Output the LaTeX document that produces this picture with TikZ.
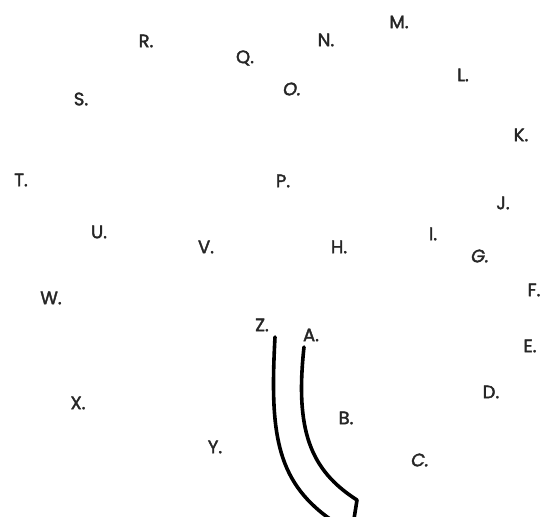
\documentclass[tikz,border=0pt]{standalone}
\usepackage{fontspec}
\setmainfont{Poppins}[FakeBold=2]
\begin{document}
\begin{tikzpicture}[x=1pt,y=-1pt,
  lbl/.style={inner sep=0pt,font=\fontsize{18}{18}\selectfont,text=black!85},
  stroke/.style={line width=3.6pt,line cap=round,line join=round}]
\useasboundingbox[fill=white] (0,0) rectangle (544,517);
\node[lbl] (R) at (146,41) {R.};
\node[lbl] (Q) at (245,58) {Q.};
\node[lbl] (S) at (81,99) {S.};
\node[lbl] (T) at (21,180) {T.};
\node[lbl] (U) at (99,232) {U.};
\node[lbl] (V) at (206,247) {V.};
\node[lbl] (M) at (399,22) {M.};
\node[lbl] (N) at (326,40) {N.};
\node[lbl] (O) at (292,89) {\itshape O.};
\node[lbl] (L) at (463,75) {L.};
\node[lbl] (K) at (521,135) {K.};
\node[lbl] (P) at (283,181) {P.};
\node[lbl] (J) at (503,203) {J.};
\node[lbl] (I) at (433,234) {I.};
\node[lbl] (H) at (339,247) {H.};
\node[lbl] (G) at (480,256) {\itshape G.};
\node[lbl] (W) at (51,298) {W.};
\node[lbl] (Z) at (262,325) {Z.};
\node[lbl] (X) at (78,403) {X.};
\node[lbl] (Y) at (215,447) {Y.};
\node[lbl] (F) at (534,290) {F.};
\node[lbl] (A) at (311,335) {A.};
\node[lbl] (E) at (530,346) {E.};
\node[lbl] (D) at (491,392) {D.};
\node[lbl] (B) at (346,418) {B.};
\node[lbl] (C) at (420,460) {\itshape C.};
\coordinate (zs) at (275,337);
\coordinate (ze) at (330,519);
\coordinate (as) at (304,347);
\coordinate (ae) at (357,500);
\coordinate (tip) at (354,519);
\draw[stroke] (zs) .. controls (270,430) and (275,480) .. (ze);
\draw[stroke] (as) .. controls (295,430) and (310,470) .. (ae) -- (tip);
\end{tikzpicture}
\end{document}
